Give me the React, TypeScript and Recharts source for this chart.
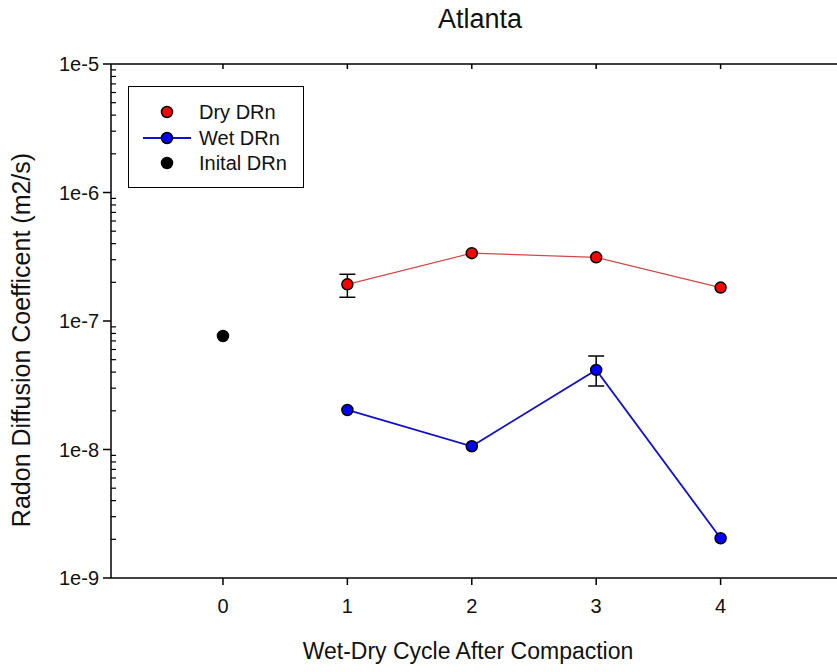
import { LineChart, Line, XAxis, YAxis, ErrorBar, Legend } from 'recharts'

// Wet-dry cycle numbers
const cycles = [1, 2, 3, 4]
const initialCycle = [0]

// Radon diffusion coefficients (m2/s)
const dryValues = [1.93e-7, 3.37e-7, 3.13e-7, 1.82e-7]
const dryLow = [1.53e-7, null, null, null]
const dryHigh = [2.31e-7, null, null, null]

const wetValues = [2.03e-8, 1.06e-8, 4.16e-8, 2.04e-9]
const wetLow = [null, null, 3.12e-8, null]
const wetHigh = [null, null, 5.34e-8, null]

const initialValues = [7.64e-8]

const xTicks = [0, 1, 2, 3, 4]
const majorTicks = [1e-9, 1e-8, 1e-7, 1e-6, 1e-5]

const FONT = 'Arial, "Liberation Sans", sans-serif'

const withErrors = (values: number[], low: (number | null)[], high: (number | null)[]) =>
  cycles.map((c, i) => ({
    x: c,
    y: values[i],
    err: low[i] != null && high[i] != null ? [values[i] - (low[i] as number), (high[i] as number) - values[i]] : undefined,
  }))

const dryData = withErrors(dryValues, dryLow, dryHigh)
const wetData = withErrors(wetValues, wetLow, wetHigh)
const initialData = initialCycle.map((c, i) => ({ x: c, y: initialValues[i] }))

// majors plus 2..9 minors for every decade
const yTicks: number[] = []
majorTicks.forEach((m, i) => {
  yTicks.push(m)
  if (i < majorTicks.length - 1) {
    for (let k = 2; k <= 9; k++) yTicks.push(m * k)
  }
})

const isDecade = (v: number) => Math.abs(Math.log10(v) - Math.round(Math.log10(v))) < 1e-6

const YTick = (props: any) => {
  const { x, y, payload } = props
  const v = payload.value
  if (isDecade(v)) {
    return (
      <g>
        <line x1={x - 8} x2={x} y1={y} y2={y} stroke="#000" strokeWidth={1.5} />
        <text x={x - 12} y={y} dy="0.35em" textAnchor="end" fontSize={20} fontFamily={FONT} fill="#111">
          {`1e${Math.round(Math.log10(v))}`}
        </text>
      </g>
    )
  }
  return <line x1={x} x2={x + 5} y1={y} y2={y} stroke="#000" strokeWidth={1.2} />
}

const LegendBox = () => {
  const rows = [
    { label: 'Dry DRn', fill: '#ff0000', line: null },
    { label: 'Wet DRn', fill: '#0000ff', line: '#1010c8' },
    { label: 'Inital DRn', fill: '#000000', line: null },
  ]
  return (
    <div
      style={{
        width: 176,
        height: 102,
        boxSizing: 'border-box',
        border: '1.5px solid #000',
        background: '#fff',
        position: 'relative',
        fontFamily: FONT,
        fontSize: 20,
      }}
    >
      {rows.map((r, i) => (
        <div key={r.label} style={{ position: 'absolute', left: 0, top: 15 + i * 25.5, height: 20, width: '100%' }}>
          <svg width={64} height={20} style={{ position: 'absolute', left: 8, top: 0 }}>
            {r.line && <line x1={6} x2={54} y1={10} y2={10} stroke={r.line} strokeWidth={1.8} />}
            <circle cx={30} cy={10} r={5.5} fill={r.fill} stroke="#000" strokeWidth={1.5} />
          </svg>
          <span style={{ position: 'absolute', left: 70, top: 0, lineHeight: '20px', color: '#111' }}>{r.label}</span>
        </div>
      ))}
    </div>
  )
}

export default function App() {
  return (
    <div style={{ position: 'absolute', left: 0, top: 0, width: 837, height: 672, overflow: 'hidden', background: '#fff' }}>
      <div
        style={{
          position: 'absolute',
          left: 380,
          width: 200,
          top: 4,
          textAlign: 'center',
          fontFamily: FONT,
          fontSize: 27,
          color: '#111',
        }}
      >
        Atlanta
      </div>
      <LineChart width={855} height={672} margin={{ top: 44, right: 10, left: 11, bottom: 0 }}>
        <XAxis
          dataKey="x"
          type="number"
          domain={[-0.9, 5]}
          ticks={xTicks}
          allowDataOverflow
          height={94}
          tickSize={7}
          tickMargin={14}
          axisLine={{ stroke: '#000', strokeWidth: 1.5 }}
          tickLine={{ stroke: '#000', strokeWidth: 1.5 }}
          tick={{ fill: '#111', fontSize: 20, fontFamily: FONT }}
          label={{
            value: 'Wet-Dry Cycle After Compaction',
            position: 'insideBottom',
            offset: 13,
            dx: -10,
            fill: '#111',
            fontSize: 23,
            fontFamily: FONT,
          }}
        />
        <XAxis
          xAxisId="top"
          orientation="top"
          dataKey="x"
          type="number"
          domain={[-0.9, 5]}
          ticks={xTicks}
          allowDataOverflow
          height={20}
          tickSize={-5}
          axisLine={{ stroke: '#000', strokeWidth: 1.5 }}
          tickLine={{ stroke: '#000', strokeWidth: 1.5 }}
          tick={() => <g />}
        />
        <YAxis
          dataKey="y"
          scale="log"
          domain={[1e-9, 1e-5]}
          ticks={yTicks}
          interval={0}
          allowDataOverflow
          width={100}
          tickSize={0}
          tickMargin={0}
          tickLine={false}
          axisLine={{ stroke: '#000', strokeWidth: 1.5 }}
          tick={<YTick />}
          label={{
            value: 'Radon Diffusion Coefficent (m2/s)',
            angle: -90,
            position: 'insideLeft',
            offset: 0,
            dx: 10,
            dy: 19,
            fill: '#111',
            fontSize: 25,
            fontFamily: FONT,
            style: { textAnchor: 'middle' },
          }}
        />
        <Legend
          layout="horizontal"
          verticalAlign="middle"
          align="center"
          wrapperStyle={{ left: 128, top: 86, width: 176, height: 102 }}
          content={() => <LegendBox />}
        />
        <Line
          data={dryData}
          dataKey="y"
          name="Dry DRn"
          stroke="#d04848"
          strokeWidth={1.2}
          dot={{ r: 5.5, fill: '#ff0000', stroke: '#000', strokeWidth: 1.5 }}
          isAnimationActive={false}
        >
          <ErrorBar dataKey="err" width={8} stroke="#000" strokeWidth={1.5} direction="y" />
        </Line>
        <Line
          data={wetData}
          dataKey="y"
          name="Wet DRn"
          stroke="#1010c8"
          strokeWidth={1.8}
          dot={{ r: 5.5, fill: '#0000ff', stroke: '#000', strokeWidth: 1.5 }}
          isAnimationActive={false}
        >
          <ErrorBar dataKey="err" width={8} stroke="#000" strokeWidth={1.5} direction="y" />
        </Line>
        <Line
          data={initialData}
          dataKey="y"
          name="Inital DRn"
          stroke="none"
          dot={{ r: 5.5, fill: '#000', stroke: '#000', strokeWidth: 1.5 }}
          isAnimationActive={false}
        />
      </LineChart>
    </div>
  )
}
